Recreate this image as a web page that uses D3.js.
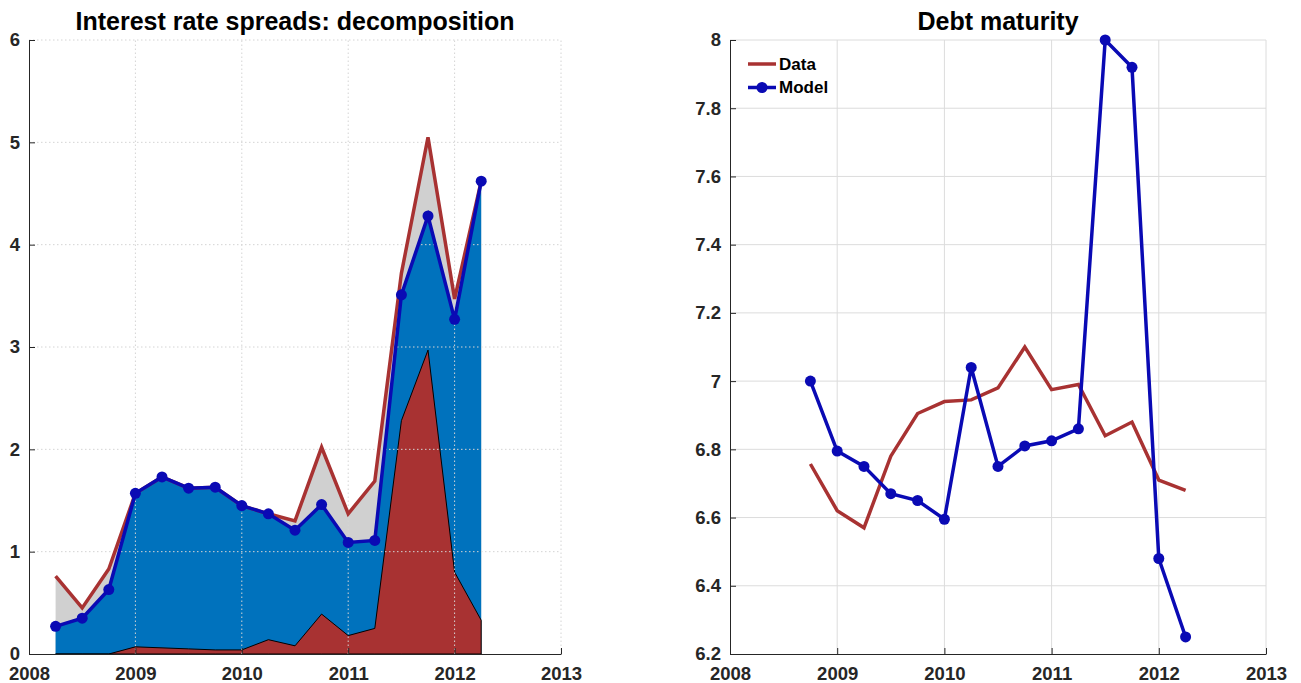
<!DOCTYPE html>
<html>
<head>
<meta charset="utf-8">
<script src="https://cdn.jsdelivr.net/npm/d3@7/dist/d3.min.js"></script>
<style>
  html, body { margin: 0; padding: 0; background: #fff; }
  svg { display: block; font-family: Arial, "Liberation Sans", Helvetica, sans-serif; }
  .tick text { font-weight: bold; fill: #262626; }
</style>
</head>
<body>
<svg id="chart" width="1301" height="683"></svg>
<script>
// Quarterly dates (decimal years)
const spreadDates = [2008.25, 2008.5, 2008.75, 2009, 2009.25, 2009.5, 2009.75, 2010, 2010.25,
                     2010.5, 2010.75, 2011, 2011.25, 2011.5, 2011.75, 2012, 2012.25];
// Interest rate spread: observed total, model total, and default-risk component
const spreadData  = [0.76, 0.45, 0.83, 1.57, 1.73, 1.62, 1.63, 1.45, 1.37,
                     1.30, 2.02, 1.37, 1.69, 3.72, 5.05, 3.47, 4.62];
const spreadModel = [0.27, 0.35, 0.63, 1.57, 1.73, 1.62, 1.63, 1.45, 1.37,
                     1.21, 1.46, 1.09, 1.11, 3.51, 4.28, 3.27, 4.62];
const spreadDefault = [0, 0, 0, 0.07, 0.06, 0.05, 0.04, 0.04, 0.14,
                       0.08, 0.39, 0.18, 0.25, 2.28, 2.97, 0.80, 0.33];

const maturityDates = [2008.75, 2009, 2009.25, 2009.5, 2009.75, 2010, 2010.25, 2010.5,
                       2010.75, 2011, 2011.25, 2011.5, 2011.75, 2012, 2012.25];
const maturityData  = [6.757, 6.62, 6.57, 6.78, 6.905, 6.94, 6.945, 6.98,
                       7.10, 6.975, 6.99, 6.84, 6.88, 6.71, 6.68];
const maturityModel = [7.0, 6.795, 6.75, 6.67, 6.65, 6.595, 7.04, 6.75,
                       6.81, 6.825, 6.86, 8.0, 7.92, 6.48, 6.25];

const yearTicks = [2008, 2009, 2010, 2011, 2012, 2013];
const spreadTicks = [0, 1, 2, 3, 4, 5, 6];
const maturityTicks = [6.2, 6.4, 6.6, 6.8, 7, 7.2, 7.4, 7.6, 7.8, 8];
const legendLabels = ["Data", "Model"];

const C = {
  redLine: "#a83232",
  blueLine: "#0a0ab4",
  blueArea: "#0072bd",
  grayArea: "#d0d0d0",
  redArea: "#a83232",
  axis: "#262626",
  grid: "#dcdcdc"
};

const svg = d3.select("#chart");

function drawAxes(g, x, y, yTicks, fmt) {
  const xAxis = d3.axisBottom(x).tickValues(yearTicks).tickFormat(d3.format("d"))
    .tickSizeInner(-6).tickSizeOuter(0).tickPadding(13);
  const yAxis = d3.axisLeft(y).tickValues(yTicks).tickFormat(fmt)
    .tickSizeInner(-6).tickSizeOuter(0).tickPadding(9);
  const gx = g.append("g").attr("transform", `translate(0,${y.range()[0]})`).call(xAxis);
  const gy = g.append("g").attr("transform", `translate(${x.range()[0]},0)`).call(yAxis);
  [gx, gy].forEach(a => {
    a.selectAll("path").attr("stroke", C.axis).attr("stroke-width", 1);
    a.selectAll("line").attr("stroke", C.axis);
    a.selectAll("text").style("font-size", "18.5px");
  });
}

function drawGrid(g, x, y, yTicks, dashed) {
  const grid = g.append("g").attr("fill", "none").attr("stroke", C.grid).attr("stroke-width", 1);
  if (dashed) grid.attr("stroke-dasharray", "1.5,2.5").attr("stroke", "#d4d4d4");
  grid.selectAll(".vx").data(yearTicks.slice(1)).join("line")
    .attr("x1", d => x(d)).attr("x2", d => x(d))
    .attr("y1", y.range()[0]).attr("y2", y.range()[1]);
  grid.selectAll(".hy").data(yTicks.slice(1)).join("line")
    .attr("x1", x.range()[0]).attr("x2", x.range()[1])
    .attr("y1", d => y(d)).attr("y2", d => y(d));
}

// ---------- Left panel: spread decomposition ----------
{
  const x = d3.scaleLinear().domain([2008, 2013]).range([29, 561]);
  const y = d3.scaleLinear().domain([0, 6]).range([654, 40]);
  const g = svg.append("g");

  const areaOf = vals => d3.area()
    .x((d, i) => x(spreadDates[i]))
    .y0(y(0))
    .y1((d, i) => y(vals[i]));

  g.append("path").datum(spreadData).attr("d", areaOf(spreadData)).attr("fill", C.grayArea);
  g.append("path").datum(spreadModel).attr("d", areaOf(spreadModel)).attr("fill", C.blueArea);
  g.append("path").datum(spreadDefault).attr("d", areaOf(spreadDefault))
    .attr("fill", C.redArea).attr("stroke", "#000").attr("stroke-width", 1);

  drawGrid(g, x, y, spreadTicks, true);
  drawAxes(g, x, y, spreadTicks, d3.format("d"));

  const line = vals => d3.line().x((d, i) => x(spreadDates[i])).y((d, i) => y(vals[i]));
  g.append("path").datum(spreadData).attr("d", line(spreadData))
    .attr("fill", "none").attr("stroke", C.redLine).attr("stroke-width", 3.5)
    .attr("stroke-linejoin", "miter");
  g.append("path").datum(spreadModel).attr("d", line(spreadModel))
    .attr("fill", "none").attr("stroke", C.blueLine).attr("stroke-width", 3.5);
  g.selectAll(".mk").data(spreadModel).join("circle")
    .attr("cx", (d, i) => x(spreadDates[i])).attr("cy", d => y(d))
    .attr("r", 5.5).attr("fill", C.blueLine);

  g.append("text").attr("x", 295).attr("y", 30).attr("text-anchor", "middle")
    .style("font-size", "25px").style("font-weight", "bold").attr("fill", "#000")
    .text("Interest rate spreads: decomposition");
}

// ---------- Right panel: debt maturity ----------
{
  const x = d3.scaleLinear().domain([2008, 2013]).range([730, 1266]);
  const y = d3.scaleLinear().domain([6.2, 8]).range([654, 40]);
  const g = svg.append("g");

  drawGrid(g, x, y, maturityTicks, false);
  drawAxes(g, x, y, maturityTicks, d => d3.format("")(+d.toFixed(1)));

  const line = vals => d3.line().x((d, i) => x(maturityDates[i])).y((d, i) => y(vals[i]));
  g.append("path").datum(maturityData).attr("d", line(maturityData))
    .attr("fill", "none").attr("stroke", C.redLine).attr("stroke-width", 3.5);
  g.append("path").datum(maturityModel).attr("d", line(maturityModel))
    .attr("fill", "none").attr("stroke", C.blueLine).attr("stroke-width", 3.5);
  g.selectAll(".mk").data(maturityModel).join("circle")
    .attr("cx", (d, i) => x(maturityDates[i])).attr("cy", d => y(d))
    .attr("r", 5.5).attr("fill", C.blueLine);

  g.append("text").attr("x", 998).attr("y", 30).attr("text-anchor", "middle")
    .style("font-size", "25px").style("font-weight", "bold").attr("fill", "#000")
    .text("Debt maturity");

  // Legend
  const lg = g.append("g").attr("transform", "translate(748,64)");
  const rows = lg.selectAll("g").data(legendLabels).join("g")
    .attr("transform", (d, i) => `translate(0,${i * 23.5})`);
  rows.append("line").attr("x1", 0).attr("x2", 28).attr("y1", 0).attr("y2", 0)
    .attr("stroke", (d, i) => i === 0 ? C.redLine : C.blueLine).attr("stroke-width", 3.5);
  rows.filter((d, i) => i === 1).append("circle").attr("cx", 14).attr("cy", 0).attr("r", 5.5)
    .attr("fill", C.blueLine);
  rows.append("text").attr("x", 31).attr("y", 0).attr("dy", "0.35em")
    .style("font-size", "17px").style("font-weight", "bold").attr("fill", "#000")
    .text(d => d);
}
</script>
</body>
</html>
